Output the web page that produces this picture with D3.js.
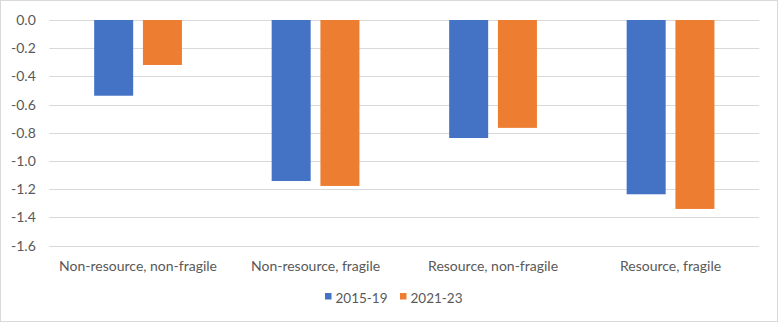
<!DOCTYPE html>
<html><head><meta charset="utf-8">
<script src="https://cdn.jsdelivr.net/npm/d3@7"></script>
<style>body{margin:0;background:#fff}svg{display:block}text{font-family:Lato,"Open Sans",sans-serif}</style>
</head><body>
<svg id="c" width="780" height="323"></svg>
<script>
const categories = ["Non-resource, non-fragile","Non-resource, fragile","Resource, non-fragile","Resource, fragile"];
const seriesNames = ["2015-19","2021-23"];
const values2015 = [-0.537,-1.142,-0.837,-1.236];
const values2021 = [-0.319,-1.177,-0.765,-1.340];
const yTicks = [0,-0.2,-0.4,-0.6,-0.8,-1.0,-1.2,-1.4,-1.6];
const colors = ["#4472C4","#ED7D31"];

const svg = d3.select("#c");
svg.append("rect").attr("x",0.5).attr("y",0.5).attr("width",777).attr("height",321)
  .attr("fill","#fff").attr("stroke","#d9d9d9");

const x0 = d3.scaleBand().domain(categories).range([49.3,759.3]).paddingInner(0).paddingOuter(0);
const y = d3.scaleLinear().domain([-1.6,0]).range([245.6,20]);
const x1 = d3.scaleBand().domain(seriesNames).range([0,x0.bandwidth()]).paddingInner(0.2).paddingOuter(0.92);

// grid
svg.append("g").selectAll("line").data(yTicks).join("line")
  .attr("x1",49.3).attr("x2",759.3).attr("y1",d=>Math.round(y(d))+0.5).attr("y2",d=>Math.round(y(d))+0.5)
  .attr("stroke","#d9d9d9").attr("stroke-width",1);

const yAxis = svg.append("g").attr("transform","translate(49.3,0)")
  .call(d3.axisLeft(y).tickValues(yTicks).tickFormat(d3.format(".1f")).tickSize(0).tickPadding(13.5));
yAxis.select(".domain").remove();
yAxis.selectAll("text").attr("fill","#595959").style("font-size","14px").text(d=>d3.format(".1f")(d).replace("−","-"));

const series = [values2015, values2021];
const g = svg.append("g");
series.forEach((vals,si)=>{
  g.selectAll(null).data(vals).join("rect")
    .attr("x",(d,i)=>x0(categories[i])+x1(seriesNames[si]))
    .attr("width",x1.bandwidth())
    .attr("y",y(0))
    .attr("height",d=>y(d)-y(0))
    .attr("fill",colors[si]);
});

const xAxis = svg.append("g").attr("transform","translate(0,245.6)")
  .call(d3.axisBottom(x0).tickSize(0).tickPadding(15));
xAxis.select(".domain").remove();
xAxis.selectAll("text").attr("fill","#595959").style("font-size","14px");

// legend
const leg = svg.append("g");
const legX = [325,400];
seriesNames.forEach((s,i)=>{
  leg.append("rect").attr("x",legX[i]).attr("y",293).attr("width",6.5).attr("height",6.5).attr("fill",colors[i]);
  leg.append("text").attr("x",legX[i]+10.5).attr("y",298).attr("dy","0.35em")
    .attr("fill","#595959").style("font-size","13.5px").text(s);
});
</script>
</body></html>
